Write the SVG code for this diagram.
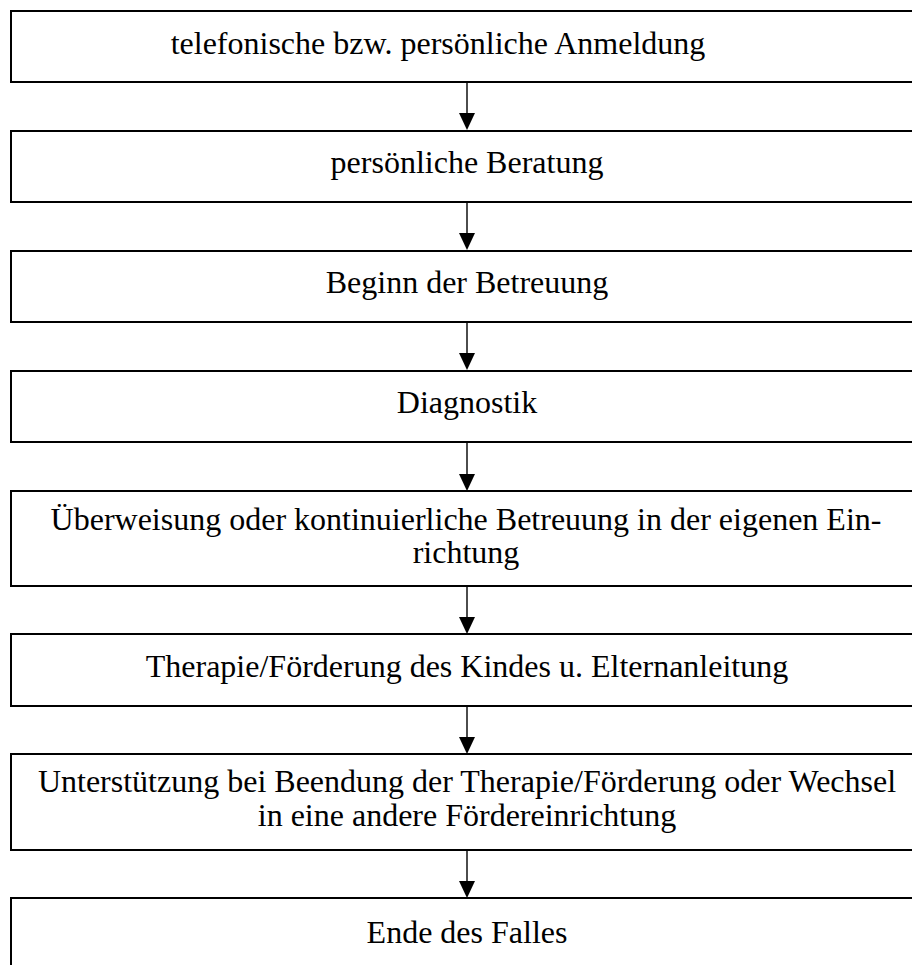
<svg xmlns="http://www.w3.org/2000/svg" width="912" height="965" viewBox="0 0 912 965">
  <style>
    .box { fill: #ffffff; stroke: #000000; stroke-width: 2; }
    .lbl { font-family: "Liberation Serif", "Times New Roman", serif; font-size: 32px; fill: #000000; text-anchor: middle; }
    .conn { stroke: #000000; stroke-width: 1.4; fill: none; }
    .head { fill: #000000; stroke: none; }
  </style>
  <rect width="912" height="965" fill="#ffffff"/>

  <!-- process steps -->
  <g id="step1">
    <rect class="box" x="11" y="11" width="1000" height="71"/>
    <text class="lbl" x="438" y="54">telefonische bzw. persönliche Anmeldung</text>
  </g>
  <g id="step2">
    <rect class="box" x="11" y="131" width="1000" height="71"/>
    <text class="lbl" x="467" y="173">persönliche Beratung</text>
  </g>
  <g id="step3">
    <rect class="box" x="11" y="251" width="1000" height="71"/>
    <text class="lbl" x="467" y="293">Beginn der Betreuung</text>
  </g>
  <g id="step4">
    <rect class="box" x="11" y="371" width="1000" height="71"/>
    <text class="lbl" x="467" y="413">Diagnostik</text>
  </g>
  <g id="step5">
    <rect class="box" x="11" y="491" width="1000" height="95"/>
    <text class="lbl" x="466" y="530">Überweisung oder kontinuierliche Betreuung in der eigenen Ein-</text>
    <text class="lbl" x="466" y="563">richtung</text>
  </g>
  <g id="step6">
    <rect class="box" x="11" y="634" width="1000" height="72"/>
    <text class="lbl" x="467" y="677">Therapie/Förderung des Kindes u. Elternanleitung</text>
  </g>
  <g id="step7">
    <rect class="box" x="11" y="754" width="1000" height="96"/>
    <text class="lbl" x="467" y="792">Unterstützung bei Beendung der Therapie/Förderung oder Wechsel</text>
    <text class="lbl" x="467" y="826">in eine andere Fördereinrichtung</text>
  </g>
  <g id="step8">
    <rect class="box" x="11" y="898" width="1000" height="72"/>
    <text class="lbl" x="467" y="943">Ende des Falles</text>
  </g>

  <!-- arrows between steps -->
  <g id="connectors">
    <line class="conn" x1="467" y1="82" x2="467" y2="114"/>
    <polygon class="head" points="459,113 475,113 467,130"/>
    <line class="conn" x1="467" y1="202" x2="467" y2="234"/>
    <polygon class="head" points="459,233 475,233 467,250"/>
    <line class="conn" x1="467" y1="322" x2="467" y2="354"/>
    <polygon class="head" points="459,353 475,353 467,370"/>
    <line class="conn" x1="467" y1="442" x2="467" y2="475"/>
    <polygon class="head" points="459,474 475,474 467,491"/>
    <line class="conn" x1="467" y1="586" x2="467" y2="618"/>
    <polygon class="head" points="459,617 475,617 467,634"/>
    <line class="conn" x1="467" y1="706" x2="467" y2="738"/>
    <polygon class="head" points="459,737 475,737 467,754"/>
    <line class="conn" x1="467" y1="850" x2="467" y2="882"/>
    <polygon class="head" points="459,881 475,881 467,898"/>
  </g>
</svg>
